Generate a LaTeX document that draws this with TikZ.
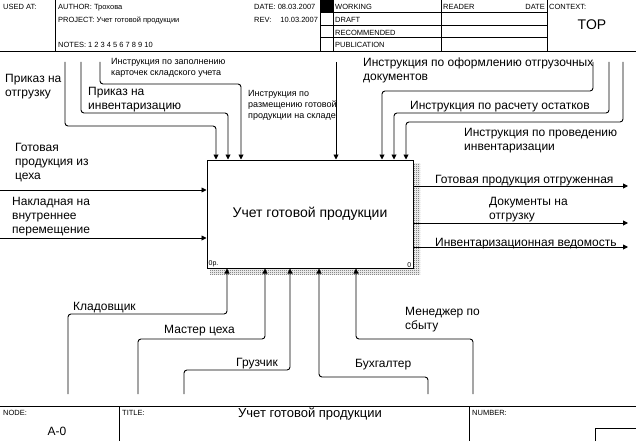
\documentclass[tikz,border=0pt]{standalone}
\usepackage{fontspec}
\setmainfont{Liberation Sans}
\usetikzlibrary{arrows.meta,patterns,backgrounds}
\definecolor{idBlack}{HTML}{000000}
\definecolor{idHatch}{HTML}{4A4A4A}
\definecolor{idWhite}{HTML}{FFFFFF}
\pgfdeclarepatternformonly{id-check}{\pgfqpoint{0pt}{0pt}}{\pgfqpoint{2pt}{2pt}}{\pgfqpoint{2pt}{2pt}}{
  \pgfpathrectangle{\pgfqpoint{0pt}{0pt}}{\pgfqpoint{1pt}{1pt}}
  \pgfpathrectangle{\pgfqpoint{1pt}{1pt}}{\pgfqpoint{1pt}{1pt}}
  \pgfusepath{fill}
}
\tikzset{
  id-frame/.style={draw=idBlack, line width=0.8pt},
  id-func/.style={
    draw=idBlack, line width=1pt, fill=idWhite,
    minimum width=206pt, minimum height=108pt, inner sep=0pt,
    font=\fontsize{14}{16}\selectfont
  },
  id-shadow/.style={pattern=id-check, pattern color=idHatch},
  id-arrow/.style={-{Triangle[length=5pt,width=5pt]}, line width=0.9pt,
    draw=idBlack, rounded corners=3pt},
  id-label/.style={anchor=north west, inner sep=0pt, align=left,
    font=\fontsize{12}{13.8}\selectfont},
  id-small/.style={id-label, font=\fontsize{9}{11}\selectfont},
  id-head/.style={anchor=north west, inner sep=0pt,
    font=\fontsize{7.5}{9}\selectfont},
  id-corner/.style={inner sep=0pt, font=\fontsize{7}{8}\selectfont}
}
\begin{document}
\begin{tikzpicture}[x=1pt, y=-1pt]
\useasboundingbox (0,0) rectangle (636,441);
% Header frame
\draw[id-frame] (0,51) -- (636,51);
\foreach \x in {55,320,333,441,547}{
  \draw[id-frame] (\x,0) -- (\x,51);
}
\foreach \y in {12.7,25,37.7}{
  \draw[id-frame] (320,\y) -- (547,\y);
}
\fill[idBlack] (320,0) rectangle (333,12.7);
% Header texts
\node[id-head] (usedat) at (3,4) {USED AT:};
\node[id-head] (author) at (58,4) {AUTHOR: Трохова};
\node[id-head] (project) at (58,17) {PROJECT: Учет готовой продукции};
\node[id-head] (notes) at (58,42) {NOTES: 1 2 3 4 5 6 7 8 9 10};
\node[id-head] (date) at (254,4) {DATE: 08.03.2007};
\node[id-head] (rev) at (254,17) {REV:\hspace{9pt}10.03.2007};
\foreach \n/\y/\t in {working/4/WORKING, draft/17/DRAFT,
    recommended/30/RECOMMENDED, publication/42/PUBLICATION}{
  \node[id-head] (\n) at (335,\y) {\t};
}
\node[id-head] (reader) at (443,4) {READER};
\node[id-head, anchor=north east] (rdate) at (545,4) {DATE};
\node[id-head] (context) at (549,4) {CONTEXT:};
\node[font=\fontsize{14}{16}\selectfont, inner sep=0pt] (top) at (592,25) {TOP};
% Footer frame
\draw[id-frame] (0,406) -- (636,406);
\draw[id-frame] (119,406) -- (119,441);
\draw[id-frame] (469,406) -- (469,441);
\draw[id-frame] (595,441) |- (636,428);
\node[id-head] (nodelbl) at (3,410) {NODE:};
\node[font=\fontsize{12}{14}\selectfont, inner sep=0pt] (nodeno) at (57,431) {A-0};
\node[id-head] (titlelbl) at (122,410) {TITLE:};
\node[font=\fontsize{13}{15}\selectfont, inner sep=0pt] (title) at (310,414) {Учет готовой продукции};
\node[id-head] (numberlbl) at (472,410) {NUMBER:};
% Function box with shadow
\node[id-func] (A0) at (310,214) {Учет готовой продукции};
\begin{scope}[on background layer]
  \fill[id-shadow] (210,163) rectangle (420,274);
\end{scope}
\node[id-corner, anchor=south west] (cost) at ([shift={(2,-1)}]A0.south west) {0р.};
\node[id-corner, anchor=south east] (num) at ([shift={(-2,-1)}]A0.south east) {0};
% Inputs
\foreach \n/\y in {in1/190, in2/238}{
  \coordinate (\n) at (0,\y);
  \draw[id-arrow] (\n) -- (\n -| A0.west);
}
\node[id-label] (lin1) at (15,143) {Готовая\\продукция из\\цеха};
\node[id-label] (lin2) at (12,197) {Накладная на\\внутреннее\\перемещение};
% Outputs
\foreach \n/\y in {out1/186, out2/223, out3/247}{
  \coordinate (\n) at (628,\y);
  \draw[id-arrow] (\n -| A0.east) -- (\n);
}
\node[id-label] (lout1) at (435,175) {Готовая продукция отгруженная};
\node[id-label] (lout2) at (489,197) {Документы на\\отгрузку};
\node[id-label] (lout3) at (435,238) {Инвентаризационная ведомость};
% Controls
\foreach \n/\sx/\by/\tx in {c1/65/126/216, c2/81/113/228, c3/100/84/241,
    c5/593/91/382, c6/609/113/394, c7/623/122/406}{
  \coordinate (\n) at (\sx,62);
  \draw[id-arrow] (\n) |- (\tx,\by) -- (\tx,0 |- A0.north);
}
\coordinate (c4) at (336,62);
\draw[id-arrow] (c4) -- (c4 |- A0.north);
\node[id-label] (lc1) at (5,74) {Приказ на\\отгрузку};
\node[id-label] (lc2) at (88,87) {Приказ на\\инвентаризацию};
\node[id-small] (lc3) at (111,58) {Инструкция по заполнению\\карточек складского учета};
\node[id-small] (lc4) at (248,90) {Инструкция по\\размещению готовой\\продукции на складе};
\node[id-label] (lc5) at (363,58) {Инструкция по оформлению отгрузочных\\документов};
\node[id-label] (lc6) at (410,101) {Инструкция по расчету остатков};
\node[id-label] (lc7) at (464,128) {Инструкция по проведению\\инвентаризации};
% Mechanisms
\foreach \n/\sx/\by/\tx in {m1/68/314/227, m2/138/339/265, m3/184/370/290,
    m4/428/377/319, m5/473/339/356}{
  \coordinate (\n) at (\sx,394);
  \draw[id-arrow] (\n) |- (\tx,\by) -- (\tx,0 |- A0.south);
}
\node[id-label] (lm1) at (73,302) {Кладовщик};
\node[id-label] (lm2) at (164,325) {Мастер цеха};
\node[id-label] (lm3) at (236,358) {Грузчик};
\node[id-label] (lm4) at (355,359) {Бухгалтер};
\node[id-label] (lm5) at (405,307) {Менеджер по\\сбыту};
\end{tikzpicture}
\end{document}
